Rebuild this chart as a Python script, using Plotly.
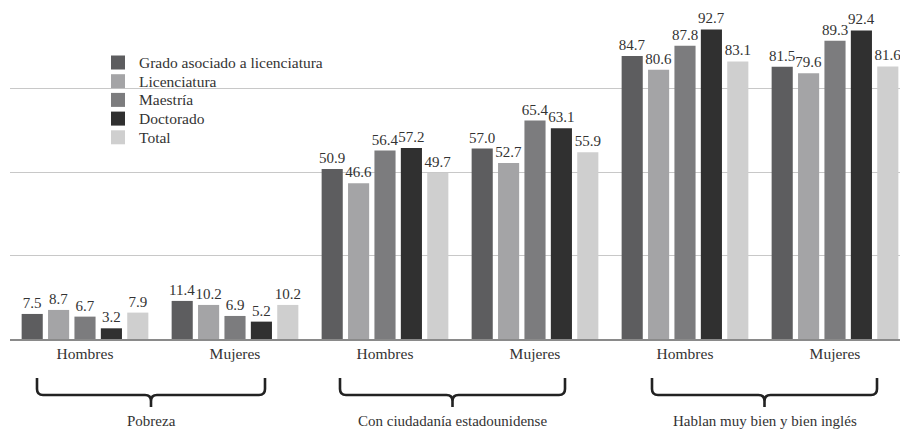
import plotly.graph_objects as go

# Grouped bars: three indicators, each split by sex, five education levels per group
groups = ["Hombres", "Mujeres", "Hombres", "Mujeres", "Hombres", "Mujeres"]
indicators = ["Pobreza", "Con ciudadanía estadounidense", "Hablan muy bien y bien inglés"]
series_names = ["Grado asociado a licenciatura", "Licenciatura", "Maestría", "Doctorado", "Total"]

grado_asociado = [7.5, 11.4, 50.9, 57.0, 84.7, 81.5]
licenciatura = [8.7, 10.2, 46.6, 52.7, 80.6, 79.6]
maestria = [6.7, 6.9, 56.4, 65.4, 87.8, 89.3]
doctorado = [3.2, 5.2, 57.2, 63.1, 92.7, 92.4]
total = [7.9, 10.2, 49.7, 55.9, 83.1, 81.6]

series_values = [grado_asociado, licenciatura, maestria, doctorado, total]
colors = ["#5d5d5f", "#a4a4a6", "#7c7c7e", "#303030", "#cfcfcf"]

FONT = "'Liberation Serif', 'DejaVu Serif', serif"
TEXT = "#333333"

x_pos = list(range(len(groups)))

fig = go.Figure()
for name, vals, col in zip(series_names, series_values, colors):
    fig.add_trace(go.Bar(
        x=x_pos, y=vals, name=name,
        marker=dict(color=col, line=dict(width=0)),
        texttemplate="%{y:.1f}", textposition="outside",
        textfont=dict(family=FONT, size=15, color=TEXT),
        constraintext="none", cliponaxis=False,
        showlegend=False,
    ))

# Plot area geometry in pixels (used to place the braces and legend)
W, H = 900, 431
ML, MR, MT, MB = 10, 0, 5, 92
plot_h = H - MT - MB


def py(ypx):
    """pixel row -> paper y"""
    return (H - MB - ypx) / plot_h


shapes = []
annotations = []

# Braces under each pair of groups
brace_spans = [(-0.32, 1.20), (1.70, 3.20), (3.78, 5.28)]
y_top, y_bar, y_tip = py(378), py(395), py(407)
r_y = 6 / plot_h
dx = 6 / 150
for (x0, x1), label in zip(brace_spans, indicators):
    xc = (x0 + x1) / 2
    path = (
        f"M {x0},{y_top} L {x0},{y_bar + r_y} Q {x0},{y_bar} {x0 + dx},{y_bar} "
        f"L {xc - dx},{y_bar} Q {xc},{y_bar} {xc},{y_bar - r_y} L {xc},{y_tip} "
        f"M {xc},{y_bar - r_y} Q {xc},{y_bar} {xc + dx},{y_bar} "
        f"L {x1 - dx},{y_bar} Q {x1},{y_bar} {x1},{y_bar + r_y} L {x1},{y_top}"
    )
    shapes.append(dict(type="path", xref="x", yref="paper", path=path,
                       line=dict(color="#222222", width=2.6)))
    annotations.append(dict(x=xc, y=py(421), xref="x", yref="paper", text=label,
                            showarrow=False, yanchor="middle", xanchor="center",
                            font=dict(family=FONT, size=15, color=TEXT)))

# Legend drawn as swatches with text
leg_x0 = (111 - ML) / (W - ML - MR)
leg_x1 = (125 - ML) / (W - ML - MR)
leg_tx = (137 - ML) / (W - ML - MR)
for i, (name, col) in enumerate(zip(series_names, colors)):
    yc = 62.5 + i * 18.7
    shapes.append(dict(type="rect", xref="paper", yref="paper",
                       x0=leg_x0, x1=leg_x1, y0=py(yc - 7), y1=py(yc + 7),
                       fillcolor=col, line=dict(width=0)))
    annotations.append(dict(x=leg_tx, y=py(yc), xref="paper", yref="paper", text=name,
                            showarrow=False, xanchor="left", yanchor="middle",
                            font=dict(family=FONT, size=15.5, color=TEXT)))

fig.update_layout(
    width=W, height=H,
    margin=dict(l=ML, r=MR, t=MT, b=MB),
    paper_bgcolor="white", plot_bgcolor="white",
    barmode="group", bargap=0.12, bargroupgap=0.2,
    shapes=shapes, annotations=annotations,
    font=dict(family=FONT, color=TEXT),
    xaxis=dict(
        range=[-0.5, (W - 85) / 150], tickmode="array", tickvals=x_pos, ticktext=groups,
        tickfont=dict(family=FONT, size=15.5, color=TEXT), ticks="", ticklen=0,
        showline=True, linecolor="#8a8a8a", linewidth=1.6, showgrid=False, zeroline=False,
        fixedrange=True,
    ),
    yaxis=dict(
        range=[0, 100], tickmode="array", tickvals=[25, 50, 75], showticklabels=False,
        showgrid=True, gridcolor="#c8c8c8", gridwidth=1.3, zeroline=False, showline=False,
        fixedrange=True,
    ),
)

fig.write_html("out.html", config={"displayModeBar": False})
